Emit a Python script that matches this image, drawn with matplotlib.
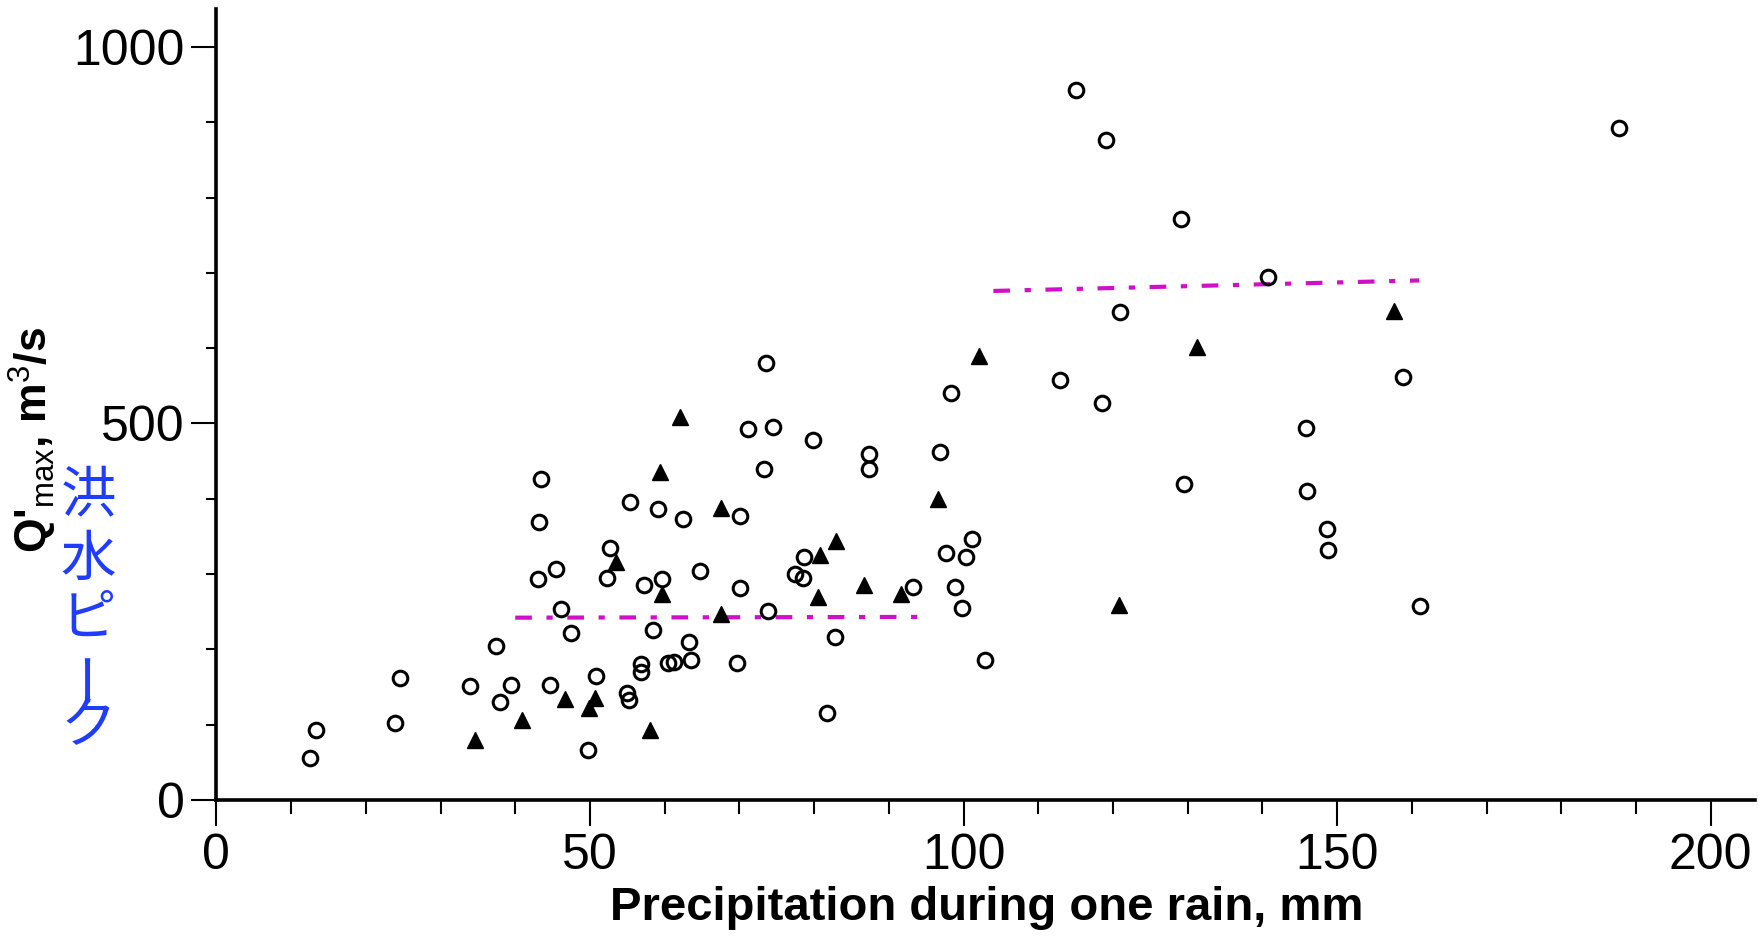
import matplotlib
matplotlib.use("Agg")
import matplotlib.pyplot as plt
from matplotlib.ticker import MultipleLocator

plt.rcParams['font.family'] = ['Liberation Sans', 'DejaVu Sans']
plt.rcParams['mathtext.fontset'] = 'custom'
plt.rcParams['mathtext.rm'] = 'Liberation Sans'
plt.rcParams['mathtext.bf'] = 'Liberation Sans:bold'

# open circles: (precipitation mm, Q'max m3/s)
circle_x = [12.5, 13.3, 23.9, 24.6, 34.0, 37.4, 38.0, 39.4, 43.5, 43.2, 43.1, 45.5,
            46.1, 47.4, 44.7, 49.8, 50.8, 54.9, 55.2, 56.8, 56.8, 52.7, 52.3, 55.4,
            57.3, 58.5, 59.1, 59.7, 60.4, 61.2, 62.4, 63.2, 63.5, 64.7, 70.1, 70.1,
            69.7, 71.2, 73.3, 73.5, 74.5, 73.9, 77.5, 78.5, 78.7, 79.9, 82.8, 81.7,
            87.3, 87.3, 93.3, 96.9, 98.3, 97.7, 98.9, 100.4, 101.2, 99.8, 102.9,
            115.1, 119.1, 129.1, 140.8, 187.7, 121.0, 112.9, 118.6, 158.8, 145.8,
            129.5, 146.0, 148.7, 148.8, 161.1]
circle_y = [56, 93, 102, 162, 151, 205, 130, 153, 426, 369, 294, 307,
            253, 222, 153, 66, 165, 142, 133, 180, 170, 334, 295, 395,
            285, 225, 386, 293, 182, 183, 373, 210, 186, 304, 377, 282,
            182, 492, 440, 580, 495, 251, 300, 295, 323, 478, 216, 115,
            460, 440, 283, 462, 540, 328, 283, 323, 346, 255, 186,
            943, 876, 772, 694, 893, 648, 558, 527, 562, 494,
            419, 410, 360, 332, 257]

# filled triangles
tri_x = [34.6, 40.9, 46.6, 50.7, 49.9, 53.5, 58.0, 59.4, 59.7, 62.0, 67.6, 67.6,
         80.8, 80.5, 83.0, 86.7, 91.7, 96.6, 102.1, 157.6, 131.2, 120.8]
tri_y = [80, 106, 134, 135, 122, 316, 93, 436, 274, 508, 388, 247,
         325, 269, 344, 286, 273, 399, 589, 649, 601, 259]

# hand-drawn magenta level lines
line1_x = [40, 94]
line1_y = [242, 243]
line2_x = [104, 161]
line2_y = [676, 690]

fig = plt.figure(figsize=(17.59, 9.41), dpi=100)
ax = fig.add_axes((0.123, 0.150, 0.875, 0.840))

ax.plot(line1_x, line1_y, color="#d010c8", lw=3, ls=(0, (4, 3.5, 1.5, 3.5)))
ax.plot(line2_x, line2_y, color="#d010c8", lw=3, ls=(0, (4, 3.5, 1.5, 3.5)))
ax.plot(circle_x, circle_y, "o", ms=10.5, mfc="none", mec="black", mew=2.2)
ax.plot(tri_x, tri_y, "^", ms=11, color="black")

ax.set_xlim(0, 206)
ax.set_ylim(0, 1050)
ax.spines["top"].set_visible(False)
ax.spines["right"].set_visible(False)
ax.spines["left"].set_linewidth(2.6)
ax.spines["bottom"].set_linewidth(2.6)

ax.xaxis.set_major_locator(MultipleLocator(50))
ax.xaxis.set_minor_locator(MultipleLocator(10))
ax.yaxis.set_major_locator(MultipleLocator(500))
ax.yaxis.set_minor_locator(MultipleLocator(100))
ax.tick_params(axis="x", which="major", direction="out", length=19, width=1.5, labelsize=36, pad=5)
ax.tick_params(axis="x", which="minor", direction="out", length=10, width=1.5)
ax.tick_params(axis="y", which="major", direction="out", length=18, width=1.5, labelsize=36, pad=5)
ax.tick_params(axis="y", which="minor", direction="out", length=7, width=1.5)

fig.text(0.561, 0.012, "Precipitation during one rain, mm", fontsize=34, fontweight="bold",
         ha="center", va="bottom")
fig.text(0.019, 0.532, r"Q'$_{\rm max}$, m$^{\rm 3}$/s", fontsize=32, fontweight="bold",
         rotation=90, ha="center", va="center")

jp_text = "洪水ピーク"
jp_y = [0.472, 0.405, 0.342, 0.283, 0.228]
for ch, yy in zip(jp_text, jp_y):
    fig.text(0.050, yy, ch, fontsize=40, color="#1f3cff", ha="center", va="center",
             family=["Noto Sans CJK JP", "DejaVu Sans"],
             rotation=90 if ch == "ー" else 0)

fig.savefig("out.png", dpi=100)
